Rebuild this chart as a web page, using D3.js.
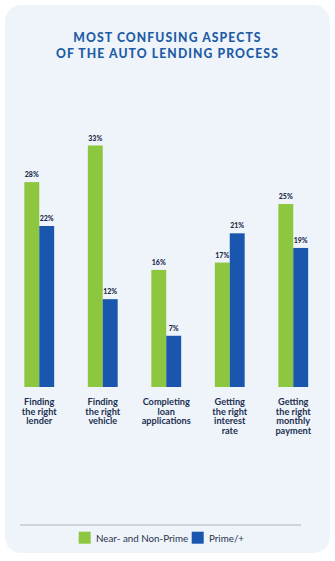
<!DOCTYPE html>
<html><head><meta charset="utf-8">
<script src="https://cdn.jsdelivr.net/npm/d3@7"></script>
<style>
html,body{margin:0;padding:0;background:#fff;}
svg{display:block;}
</style></head>
<body><svg id="c" width="335" height="561"></svg>
<script>
const categories = [
  ["Finding","the right","lender"],
  ["Finding","the right","vehicle"],
  ["Completing","loan","applications"],
  ["Getting","the right","interest","rate"],
  ["Getting","the right","monthly","payment"]
];
const seriesNames = ["Near- and Non-Prime","Prime/+"];
const nearPrime = [28,33,16,17,25];
const primePlus = [22,12,7,21,19];
const titleLines = ["MOST CONFUSING ASPECTS","OF THE AUTO LENDING PROCESS"];
const colors = ["#8dc63f","#1a56ad"];

const svg = d3.select("#c");
svg.append("rect").attr("x",5).attr("y",5).attr("width",325).attr("height",548)
  .attr("rx",16).attr("fill","#eef4fa");

svg.selectAll("text.title").data(titleLines).join("text").attr("class","title")
  .attr("x",167.5).attr("y",(d,i)=>41.5+i*16)
  .attr("text-anchor","middle").attr("font-family","Lato, 'Open Sans', sans-serif")
  .attr("font-weight",900).attr("font-size",12.2).attr("letter-spacing",1.1)
  .attr("fill","#1f5ca6").text(d=>d);

const idx = d3.range(categories.length);
const x0 = d3.scaleBand().domain(idx).range([7.5,325]).paddingInner(0.53).paddingOuter(0.265);
const x1 = d3.scaleBand().domain([0,1]).range([0,x0.bandwidth()]);
const y = d3.scaleLinear().domain([0,33]).range([387,145.5]);

const data = idx.flatMap(i=>[
  {i, s:0, v:nearPrime[i]},
  {i, s:1, v:primePlus[i]}
]);

svg.selectAll("rect.bar").data(data).join("rect").attr("class","bar")
  .attr("x",d=>x0(d.i)+x1(d.s)).attr("width",x1.bandwidth())
  .attr("y",d=>y(d.v)).attr("height",d=>y(0)-y(d.v))
  .attr("fill",d=>colors[d.s]);

svg.selectAll("text.val").data(data).join("text").attr("class","val")
  .attr("x",d=>x0(d.i)+x1(d.s)+x1.bandwidth()/2).attr("y",d=>y(d.v)-5)
  .attr("text-anchor","middle").attr("font-family","Lato, sans-serif")
  .attr("font-weight",900).attr("font-size",7).attr("fill","#1d2b4a")
  .text(d=>d.v+"%");

const cat = svg.selectAll("g.cat").data(idx).join("g").attr("class","cat")
  .attr("transform",i=>`translate(${x0(i)+x0.bandwidth()/2},0)`);
cat.selectAll("text").data(i=>categories[i]).join("text")
  .attr("x",0).attr("y",(d,j)=>404.8+j*9.7)
  .attr("text-anchor","middle").attr("font-family","Lato, sans-serif")
  .attr("font-weight",700).attr("font-size",9.2).attr("fill","#1d3050")
  .text(d=>d);

svg.append("line").attr("x1",20).attr("x2",301).attr("y1",525).attr("y2",525)
  .attr("stroke","#aab3c0").attr("stroke-width",1);

const legX = [78.7,191.7];
const leg = svg.selectAll("g.leg").data(seriesNames).join("g").attr("class","leg")
  .attr("transform",(d,i)=>`translate(${legX[i]},531.7)`);
leg.append("rect").attr("width",12).attr("height",12).attr("fill",(d,i)=>colors[i]);
leg.append("text").attr("x",17.3).attr("y",9.8).attr("font-family","Lato, sans-serif")
  .attr("font-size",9.8).attr("fill","#2a3550").text(d=>d);
</script></body></html>
